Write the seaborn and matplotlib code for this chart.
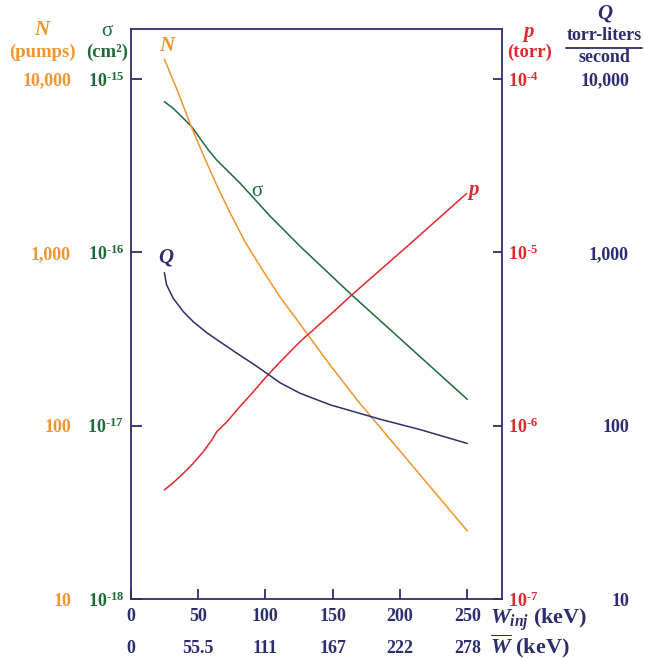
import numpy as np
import matplotlib
matplotlib.use('Agg')
import matplotlib.pyplot as plt
import seaborn as sns
from matplotlib.lines import Line2D
from matplotlib.ticker import NullLocator

# eixo x: energia de injecao (keV) e energia media
w_ticks = [0, 50, 100, 150, 200, 250]
wbar_ticks = [0, 55.5, 111, 167, 222, 278]
wbar_labels = ['0', '55.5', '111', '167', '222', '278']

# N (bombas)
n_w = [25, 35.1, 44.8, 54.6, 64.2, 73.9, 85, 98.4, 110.9, 125.8, 131.7, 148.1, 168.1, 179.3, 250]
n_pumps = [13060, 8430, 5360, 3550, 2415, 1687, 1148, 781, 553, 386, 334, 224, 141, 111, 24.7]

# sigma (cm^2)
sigma_w = [25, 31.6, 39.1, 45.3, 51.5, 57.7, 63.9, 71.3, 81.2, 103.5, 126.6, 164.2, 250]
sigma_cm2 = [7.41e-16, 6.78e-16, 5.94e-16, 5.31e-16, 4.55e-16, 3.90e-16, 3.41e-16,
             2.99e-16, 2.51e-16, 1.62e-16, 1.07e-16, 5.68e-17, 1.42e-17]

# p (torr)
p_w = [25, 31.6, 39.1, 46.5, 53.9, 60.2, 63.9, 71.3, 81.2, 91.1, 100.5, 110.9, 125.7,
       148.1, 164.2, 207.5, 249.6]
p_torr = [4.26e-7, 4.69e-7, 5.31e-7, 6.07e-7, 7.08e-7, 8.26e-7, 9.23e-7, 1.05e-6,
          1.29e-6, 1.57e-6, 1.91e-6, 2.33e-6, 3.05e-6, 4.36e-6, 5.68e-6, 1.12e-5, 2.19e-5]

# Q (torr-liters / second)
q_w = [25, 26.7, 31.6, 39.1, 46.5, 56.5, 66.3, 78.8, 91.1, 100.5, 110.9, 125.7, 148.1,
       185.2, 214.9, 250]
q_flow = [764, 649, 543, 455, 398, 344, 305, 262, 227, 202, 177, 154, 132, 109, 95, 79]

n_ticks = [10, 100, 1000, 10000]
n_labels = ['10', '100', '1,000', '10,000']
sigma_ticks = [1e-18, 1e-17, 1e-16, 1e-15]
sigma_labels = [r'10$^{\text{-}18}$', r'10$^{\text{-}17}$', r'10$^{\text{-}16}$', r'10$^{\text{-}15}$']
p_ticks = [1e-7, 1e-6, 1e-5, 1e-4]
p_labels = [r'10$^{\text{-}7}$', r'10$^{\text{-}6}$', r'10$^{\text{-}5}$', r'10$^{\text{-}4}$']

NAVY = '#2d2e6e'
ORANGE = '#f0952f'
GREEN = '#1f6a3a'
RED = '#e0282f'

sns.set_theme(style='white')
plt.rcParams['font.family'] = ['Liberation Serif', 'DejaVu Serif']
plt.rcParams['font.weight'] = 'bold'
plt.rcParams['mathtext.fontset'] = 'custom'
plt.rcParams['mathtext.rm'] = 'Liberation Serif:bold'
plt.rcParams['mathtext.it'] = 'Liberation Serif:italic:bold'
plt.rcParams['mathtext.bf'] = 'Liberation Serif:bold'

W, H = 645, 658
fig = plt.figure(figsize=(W / 100, H / 100), dpi=100)
fig.patch.set_facecolor('white')


def fx(px):
    return px / W


def fy(py):
    return 1 - py / H


left, right, top, bottom = 130.7, 502, 29, 599
ax = fig.add_axes([fx(left), fy(bottom), fx(right) - fx(left), fy(top) - fy(bottom)])
decades = (bottom - top) / 173.3

axN = ax.twinx()
axP = ax.twinx()
axQ = ax.twinx()

for a in (ax, axN, axP, axQ):
    a.set_yscale('log')
    a.set_xlim(0, 275.8)

ax.set_ylim(1e-18, 10 ** (-18 + decades))
axN.set_ylim(10, 10 ** (1 + decades))
axQ.set_ylim(10, 10 ** (1 + decades))
axP.set_ylim(1e-7, 10 ** (-7 + decades))

sns.lineplot(x=sigma_w, y=sigma_cm2, ax=ax, color=GREEN, lw=1.1)
sns.lineplot(x=n_w, y=n_pumps, ax=axN, color=ORANGE, lw=1.1)
sns.lineplot(x=p_w, y=p_torr, ax=axP, color=RED, lw=1.1)
sns.lineplot(x=q_w, y=q_flow, ax=axQ, color=NAVY, lw=1.1)

# moldura
for s in ax.spines.values():
    s.set_color(NAVY)
    s.set_linewidth(1.3)
for a in (axN, axP, axQ):
    a.patch.set_visible(False)
    for s in a.spines.values():
        s.set_visible(False)
    a.yaxis.set_minor_locator(NullLocator())
ax.yaxis.set_minor_locator(NullLocator())

# eixo x
ax.set_xticks(w_ticks, labels=[str(t) for t in w_ticks])
ax.tick_params(axis='x', direction='in', length=7, width=1.3, color=NAVY,
               labelcolor=NAVY, labelsize=13, pad=6.5, bottom=True, top=False)
sec = ax.secondary_xaxis('bottom', functions=(lambda x: x * 1.11, lambda x: x / 1.11))
sec.set_xticks(wbar_ticks, labels=wbar_labels)
sec.tick_params(axis='x', length=0, labelcolor=NAVY, labelsize=13, pad=29.5)
sec.spines['bottom'].set_visible(False)

# sigma
ax.set_yticks(sigma_ticks, labels=sigma_labels)
ax.tick_params(axis='y', direction='in', length=8, width=1.3, color=NAVY,
               labelcolor=GREEN, labelsize=13, pad=4.8, left=True, right=False)

# N
axN.yaxis.tick_left()
axN.set_yticks(n_ticks, labels=n_labels)
axN.tick_params(axis='y', length=0, labelcolor=ORANGE, labelsize=13, pad=43)

# p
axP.yaxis.tick_right()
axP.set_yticks(p_ticks, labels=p_labels)
axP.tick_params(axis='y', direction='in', length=6.5, width=1.3, color=NAVY,
                labelcolor=RED, labelsize=13, pad=4.3)

# Q
axQ.yaxis.tick_right()
axQ.set_yticks(n_ticks, labels=n_labels)
axQ.tick_params(axis='y', length=0, labelcolor=NAVY, labelsize=13, pad=91.4)
for lbl in axQ.get_yticklabels():
    lbl.set_ha('right')

for a in (ax, axN, axP, axQ):
    a.set_xlabel('')
    a.set_ylabel('')
    a.grid(False)

# cabecalhos dos eixos
fig.text(fx(42), fy(30), 'N', color=ORANGE, fontsize=15, style='italic', ha='center', va='center')
fig.text(fx(42), fy(52), '(pumps)', color=ORANGE, fontsize=13.5, ha='center', va='center')
fig.text(fx(107), fy(31), 'σ', color=GREEN, fontsize=15, ha='center', va='center', weight='normal')
fig.text(fx(107), fy(52), '(cm²)', color=GREEN, fontsize=13.5, ha='center', va='center')
fig.text(fx(529), fy(32), 'p', color=RED, fontsize=15, style='italic', ha='center', va='center')
fig.text(fx(529.5), fy(52), '(torr)', color=RED, fontsize=13.5, ha='center', va='center')
fig.text(fx(605), fy(14), 'Q', color=NAVY, fontsize=15, style='italic', ha='center', va='center')
fig.text(fx(604), fy(36), 'torr-liters', color=NAVY, fontsize=13, ha='center', va='center')
fig.add_artist(Line2D([fx(566), fx(642)], [fy(47.5), fy(47.5)], color=NAVY, lw=1.3))
fig.text(fx(604.5), fy(58), 'second', color=NAVY, fontsize=13, ha='center', va='center')

# rotulos das curvas
fig.text(fx(167), fy(46), 'N', color=ORANGE, fontsize=15, style='italic', ha='center', va='center')
fig.text(fx(257), fy(192), 'σ', color=GREEN, fontsize=15, ha='center', va='center', weight='normal')
fig.text(fx(166), fy(258), 'Q', color=NAVY, fontsize=15, style='italic', ha='center', va='center')
fig.text(fx(474), fy(190), 'p', color=RED, fontsize=15, style='italic', ha='center', va='center')

# titulos do eixo x
fig.text(fx(490), fy(624), r'$W_{inj}$ (keV)', color=NAVY, fontsize=16, ha='left', va='baseline')
fig.text(fx(490), fy(653), r'$\overline{W}$ (keV)', color=NAVY, fontsize=16, ha='left', va='baseline')

fig.savefig('out.png', dpi=100, facecolor='white')
